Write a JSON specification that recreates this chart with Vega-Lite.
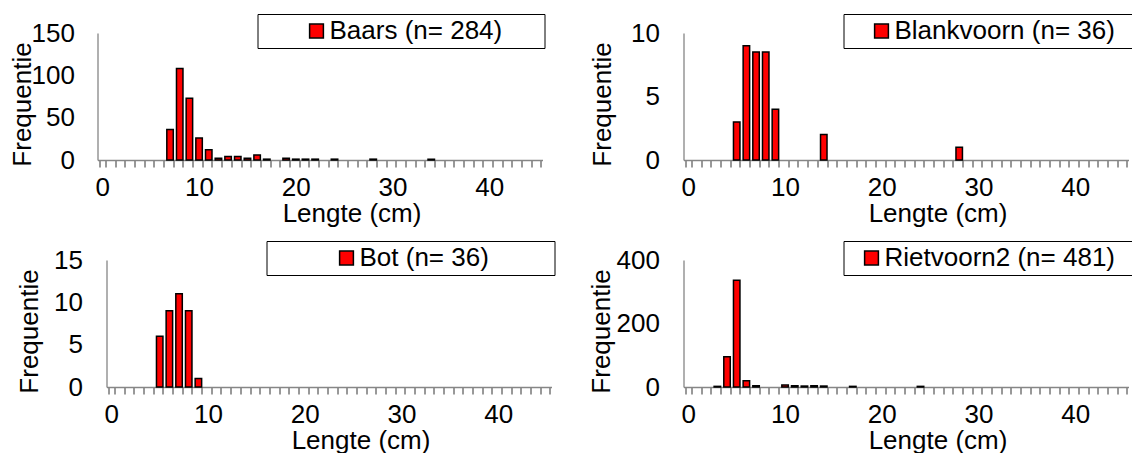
{
  "$schema": "https://vega.github.io/schema/vega-lite/v6.json",
  "padding": {"left": 8.5, "top": 13, "right": 0, "bottom": 0},
  "background": "white",
  "config": {
    "font": "Liberation Sans",
    "view": {"stroke": null},
    "axis": {"labelFont": "Liberation Sans", "titleFont": "Liberation Sans", "labelFontSize": 26, "titleFontSize": 26, "labelColor": "#000", "titleColor": "#000", "titleFontWeight": "normal", "grid": false, "domainColor": "#868686", "domainWidth": 1.3, "tickColor": "#333", "tickWidth": 1},
    "legend": {"orient": "none", "legendX": 160, "legendY": -19, "titleOrient": "right", "strokeColor": "#000", "padding": 4, "symbolType": "square", "symbolSize": 190, "symbolStrokeColor": "#000", "symbolStrokeWidth": 1.5, "labelFont": "Liberation Sans", "labelFontSize": 26, "labelColor": "#000", "labelOffset": 0, "labelLimit": 400, "fillColor": "white", "titleFontSize": 26}
  },
  "datasets": {
    "baars": [
      {"lengte": 7, "aantal": 36, "soort": "Baars (n= 284)"},
      {"lengte": 8, "aantal": 108, "soort": "Baars (n= 284)"},
      {"lengte": 9, "aantal": 73, "soort": "Baars (n= 284)"},
      {"lengte": 10, "aantal": 26, "soort": "Baars (n= 284)"},
      {"lengte": 11, "aantal": 12, "soort": "Baars (n= 284)"},
      {"lengte": 12, "aantal": 2, "soort": "Baars (n= 284)"},
      {"lengte": 13, "aantal": 4, "soort": "Baars (n= 284)"},
      {"lengte": 14, "aantal": 4, "soort": "Baars (n= 284)"},
      {"lengte": 15, "aantal": 2, "soort": "Baars (n= 284)"},
      {"lengte": 16, "aantal": 6, "soort": "Baars (n= 284)"},
      {"lengte": 17, "aantal": 1, "soort": "Baars (n= 284)"},
      {"lengte": 19, "aantal": 2, "soort": "Baars (n= 284)"},
      {"lengte": 20, "aantal": 1, "soort": "Baars (n= 284)"},
      {"lengte": 21, "aantal": 1, "soort": "Baars (n= 284)"},
      {"lengte": 22, "aantal": 1, "soort": "Baars (n= 284)"},
      {"lengte": 24, "aantal": 1, "soort": "Baars (n= 284)"},
      {"lengte": 28, "aantal": 1, "soort": "Baars (n= 284)"},
      {"lengte": 34, "aantal": 1, "soort": "Baars (n= 284)"}
    ],
    "blankvoorn": [
      {"lengte": 5, "aantal": 3, "soort": "Blankvoorn (n= 36)"},
      {"lengte": 6, "aantal": 9, "soort": "Blankvoorn (n= 36)"},
      {"lengte": 7, "aantal": 8.5, "soort": "Blankvoorn (n= 36)"},
      {"lengte": 8, "aantal": 8.5, "soort": "Blankvoorn (n= 36)"},
      {"lengte": 9, "aantal": 4, "soort": "Blankvoorn (n= 36)"},
      {"lengte": 14, "aantal": 2, "soort": "Blankvoorn (n= 36)"},
      {"lengte": 28, "aantal": 1, "soort": "Blankvoorn (n= 36)"}
    ],
    "bot": [
      {"lengte": 5, "aantal": 6, "soort": "Bot (n= 36)"},
      {"lengte": 6, "aantal": 9, "soort": "Bot (n= 36)"},
      {"lengte": 7, "aantal": 11, "soort": "Bot (n= 36)"},
      {"lengte": 8, "aantal": 9, "soort": "Bot (n= 36)"},
      {"lengte": 9, "aantal": 1, "soort": "Bot (n= 36)"}
    ],
    "rietvoorn": [
      {"lengte": 3, "aantal": 2, "soort": "Rietvoorn2 (n= 481)"},
      {"lengte": 4, "aantal": 95, "soort": "Rietvoorn2 (n= 481)"},
      {"lengte": 5, "aantal": 336, "soort": "Rietvoorn2 (n= 481)"},
      {"lengte": 6, "aantal": 20, "soort": "Rietvoorn2 (n= 481)"},
      {"lengte": 7, "aantal": 4, "soort": "Rietvoorn2 (n= 481)"},
      {"lengte": 10, "aantal": 6, "soort": "Rietvoorn2 (n= 481)"},
      {"lengte": 11, "aantal": 4, "soort": "Rietvoorn2 (n= 481)"},
      {"lengte": 12, "aantal": 3, "soort": "Rietvoorn2 (n= 481)"},
      {"lengte": 13, "aantal": 4, "soort": "Rietvoorn2 (n= 481)"},
      {"lengte": 14, "aantal": 3, "soort": "Rietvoorn2 (n= 481)"},
      {"lengte": 17, "aantal": 2, "soort": "Rietvoorn2 (n= 481)"},
      {"lengte": 24, "aantal": 2, "soort": "Rietvoorn2 (n= 481)"}
    ]
  },
  "columns": 2,
  "align": "each",
  "spacing": {"row": 14, "column": 32},
  "resolve": {"scale": {"color": "independent"}, "legend": {"color": "independent"}},
  "concat": [
    {
      "width": 445, "height": 127,
      "data": {"name": "baars"},
      "mark": {"type": "bar", "stroke": "#000", "strokeWidth": 1.5},
      "encoding": {
        "x": {"field": "lengte", "type": "ordinal", "scale": {"domain": [0,1,2,3,4,5,6,7,8,9,10,11,12,13,14,15,16,17,18,19,20,21,22,23,24,25,26,27,28,29,30,31,32,33,34,35,36,37,38,39,40,41,42,43,44,45], "paddingInner": 0.33, "paddingOuter": 0.165},
          "axis": {"title": "Lengte (cm)", "labelAngle": 0, "labelExpr": "datum.value % 10 === 0 ? datum.label : ''", "labelOverlap": false, "tickBand": "extent", "tickSize": 7, "labelPadding": 7, "titleX": 254, "titleY": 61, "titleBaseline": "alphabetic", "titleAlign": "center"}},
        "y": {"field": "aantal", "type": "quantitative", "scale": {"domain": [0, 150]},
          "axis": {"title": "Frequentie", "values": [0, 50, 100, 150], "ticks": false, "labelPadding": 23, "titleX": -67.5, "titleY": 71, "titleAngle": 270, "titleBaseline": "alphabetic", "titleAlign": "center"}},
        "color": {"field": "soort", "type": "nominal", "scale": {"range": ["#FF0000"]},
          "legend": {"title": " ", "symbolOffset": 42, "titlePadding": 38}}
      }
    },
    {
      "width": 445, "height": 127,
      "data": {"name": "blankvoorn"},
      "mark": {"type": "bar", "stroke": "#000", "strokeWidth": 1.5},
      "encoding": {
        "x": {"field": "lengte", "type": "ordinal", "scale": {"domain": [0,1,2,3,4,5,6,7,8,9,10,11,12,13,14,15,16,17,18,19,20,21,22,23,24,25,26,27,28,29,30,31,32,33,34,35,36,37,38,39,40,41,42,43,44,45], "paddingInner": 0.33, "paddingOuter": 0.165},
          "axis": {"title": "Lengte (cm)", "labelAngle": 0, "labelExpr": "datum.value % 10 === 0 ? datum.label : ''", "labelOverlap": false, "tickBand": "extent", "tickSize": 7, "labelPadding": 7, "titleX": 254, "titleY": 61, "titleBaseline": "alphabetic", "titleAlign": "center"}},
        "y": {"field": "aantal", "type": "quantitative", "scale": {"domain": [0, 10]},
          "axis": {"title": "Frequentie", "values": [0, 5, 10], "ticks": false, "labelPadding": 24, "titleX": -73, "titleY": 71, "titleAngle": 270, "titleBaseline": "alphabetic", "titleAlign": "center"}},
        "color": {"field": "soort", "type": "nominal", "scale": {"range": ["#FF0000"]},
          "legend": {"title": " ", "symbolOffset": 21, "titlePadding": 32}}
      }
    },
    {
      "width": 454, "height": 127,
      "data": {"name": "bot"},
      "mark": {"type": "bar", "stroke": "#000", "strokeWidth": 1.5},
      "encoding": {
        "x": {"field": "lengte", "type": "ordinal", "scale": {"domain": [0,1,2,3,4,5,6,7,8,9,10,11,12,13,14,15,16,17,18,19,20,21,22,23,24,25,26,27,28,29,30,31,32,33,34,35,36,37,38,39,40,41,42,43,44,45], "range": [9, 454], "paddingInner": 0.33, "paddingOuter": 0.165},
          "axis": {"title": "Lengte (cm)", "labelAngle": 0, "labelExpr": "datum.value % 10 === 0 ? datum.label : ''", "labelOverlap": false, "tickBand": "extent", "tickSize": 7, "labelPadding": 7, "titleX": 263, "titleY": 61, "titleBaseline": "alphabetic", "titleAlign": "center"}},
        "y": {"field": "aantal", "type": "quantitative", "scale": {"domain": [0, 15]},
          "axis": {"title": "Frequentie", "values": [0, 5, 10, 15], "ticks": false, "offset": -9, "labelPadding": 24, "titleX": -69.5, "titleY": 71, "titleAngle": 270, "titleBaseline": "alphabetic", "titleAlign": "center"}},
        "color": {"field": "soort", "type": "nominal", "scale": {"range": ["#FF0000"]},
          "legend": {"title": " ", "legendX": 169, "symbolOffset": 63, "titlePadding": 62}}
      }
    },
    {
      "width": 445, "height": 127,
      "data": {"name": "rietvoorn"},
      "mark": {"type": "bar", "stroke": "#000", "strokeWidth": 1.5},
      "encoding": {
        "x": {"field": "lengte", "type": "ordinal", "scale": {"domain": [0,1,2,3,4,5,6,7,8,9,10,11,12,13,14,15,16,17,18,19,20,21,22,23,24,25,26,27,28,29,30,31,32,33,34,35,36,37,38,39,40,41,42,43,44,45], "paddingInner": 0.33, "paddingOuter": 0.165},
          "axis": {"title": "Lengte (cm)", "labelAngle": 0, "labelExpr": "datum.value % 10 === 0 ? datum.label : ''", "labelOverlap": false, "tickBand": "extent", "tickSize": 7, "labelPadding": 7, "titleX": 254, "titleY": 61, "titleBaseline": "alphabetic", "titleAlign": "center"}},
        "y": {"field": "aantal", "type": "quantitative", "scale": {"domain": [0, 400]},
          "axis": {"title": "Frequentie", "values": [0, 200, 400], "ticks": false, "labelPadding": 24, "titleX": -74.5, "titleY": 71, "titleAngle": 270, "titleBaseline": "alphabetic", "titleAlign": "center"}},
        "color": {"field": "soort", "type": "nominal", "scale": {"range": ["#FF0000"]},
          "legend": {"title": " ", "symbolOffset": 11, "titlePadding": 31}}
      }
    }
  ]
}
